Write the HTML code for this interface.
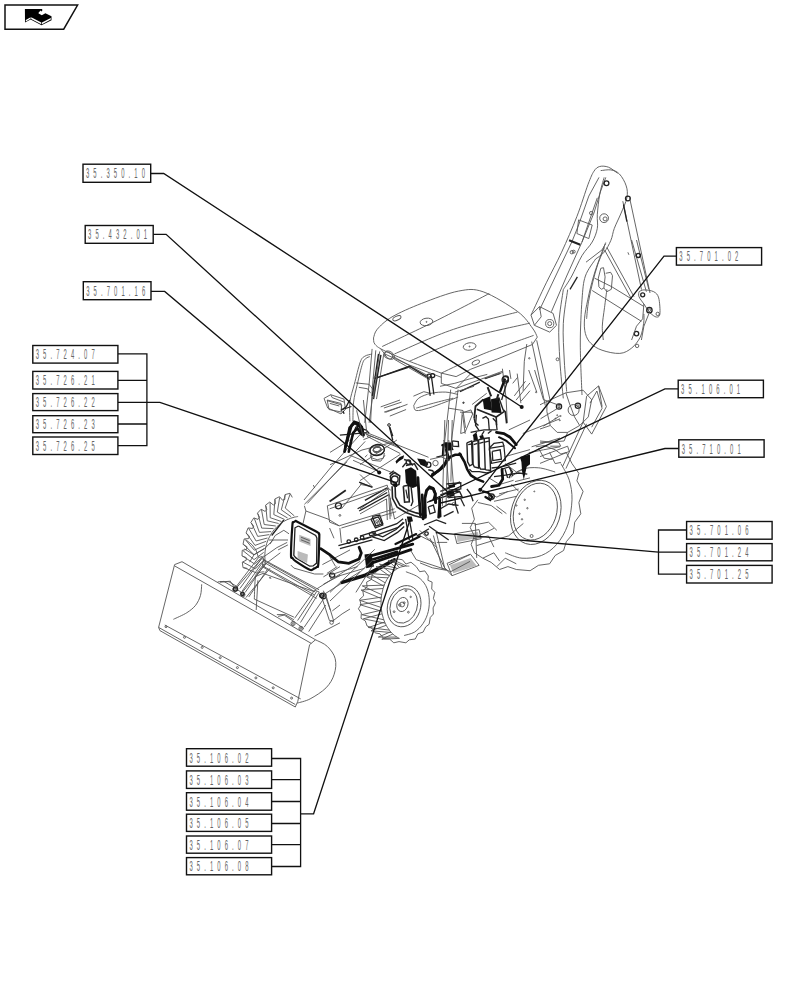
<!DOCTYPE html>
<html><head><meta charset="utf-8">
<style>
html,body{margin:0;padding:0;background:#fff;width:812px;height:1000px;overflow:hidden;}
svg{position:absolute;left:0;top:0;}
.lb{font-family:"Liberation Sans",sans-serif;font-size:14px;fill:#666;}
</style></head><body>
<svg width="812" height="1000" viewBox="0 0 812 1000">
<g id="icon">
<path d="M5 5 H77.6 L63.7 29.2 H5 Z" fill="none" stroke="#111" stroke-width="1.5"/>
<path d="M24.9 8.9 L42.2 8.9 L42.2 11 L38.3 13.2 L41.8 15.2 L45.4 13.2 L51.5 16.3 L51.5 20.3 L41.5 25.2 L30.6 19.6 L25 22.6 Z" fill="#000"/>
<path d="M25.8 20 L30.6 17.2 L30.6 18.8 L25.8 21.6 Z M31.2 17.3 L41.3 22.6 L41.3 24.2 L31.2 18.9 Z M42 22.6 L50.8 18 L50.8 19.6 L42 24.2 Z M38.5 12.6 L40.8 10.6 L41.6 11.6 L39.6 13.4 Z" fill="#fff"/>
</g>
<g id="machine">
<path d="M236.6 586.1 L258.7 557.4 L262.1 556.6 L264.3 559.9 L242.2 591.0" fill="none" stroke="#555" stroke-width="0.9"/>
<path d="M239.9 588.5 L261.4 558.9" fill="none" stroke="#555" stroke-width="0.9"/>
<path d="M245.1 592.5 L265.1 563.6" fill="none" stroke="#555" stroke-width="0.9"/>
<path d="M248.8 596.9 L267.3 569.6" fill="none" stroke="#555" stroke-width="0.9"/>
<circle cx="234.8" cy="589.5" r="2.1" fill="none" stroke="#555" stroke-width="0.9"/>
<circle cx="234.8" cy="589.5" r="0.9" fill="none" stroke="#555" stroke-width="0.9"/>
<circle cx="242.9" cy="594.7" r="2.1" fill="none" stroke="#555" stroke-width="0.9"/>
<circle cx="242.9" cy="594.7" r="0.9" fill="none" stroke="#555" stroke-width="0.9"/>
<path d="M220.0 581.7 L228.9 581.7 L237.7 587.0" fill="none" stroke="#555" stroke-width="0.9"/>
<path d="M264.3 559.9 C264.1 560.3 263.2 561.3 262.9 562.2 C262.6 563.1 262.2 564.6 262.6 565.4 C262.9 566.2 264.7 566.6 265.1 566.9" fill="none" stroke="#555" stroke-width="0.9"/>
<path d="M263.6 560.4 L316.3 589.9" fill="none" stroke="#555" stroke-width="0.9"/>
<path d="M262.6 565.9 L314.6 595.0" fill="none" stroke="#555" stroke-width="0.9"/>
<path d="M264.3 562.5 L315.3 592.0" fill="none" stroke="#555" stroke-width="0.9"/>
<path d="M294.6 618.3 L314.6 590.2 L319.3 592.0 L300.5 622.5" fill="none" stroke="#555" stroke-width="0.9"/>
<path d="M297.6 620.5 L316.8 591.4" fill="none" stroke="#555" stroke-width="0.9"/>
<path d="M304.2 627.2 L323.4 599.1" fill="none" stroke="#555" stroke-width="0.9"/>
<path d="M308.7 631.6 L325.7 605.0" fill="none" stroke="#555" stroke-width="0.9"/>
<circle cx="323.4" cy="595.9" r="2.7" fill="none" stroke="#222" stroke-width="1.3"/>
<circle cx="323.4" cy="595.9" r="1.2" fill="none" stroke="#555" stroke-width="0.9"/>
<circle cx="293.1" cy="623.5" r="2.1" fill="none" stroke="#555" stroke-width="0.9"/>
<circle cx="293.1" cy="623.5" r="0.9" fill="none" stroke="#555" stroke-width="0.9"/>
<circle cx="301.0" cy="628.4" r="2.1" fill="none" stroke="#555" stroke-width="0.9"/>
<circle cx="301.0" cy="628.4" r="0.9" fill="none" stroke="#555" stroke-width="0.9"/>
<path d="M276.9 614.6 L285.0 614.6 L293.9 619.8" fill="none" stroke="#555" stroke-width="0.9"/>
<path d="M322.0 597.9 L329.4 620.5 L333.8 621.3 L326.4 596.9" fill="none" stroke="#555" stroke-width="0.9"/>
<circle cx="331.6" cy="622.5" r="1.8" fill="none" stroke="#555" stroke-width="0.9"/>
<path d="M254.3 599.1 C254.5 595.4 254.7 581.3 255.5 576.9 C256.2 572.6 257.2 573.7 258.7 572.8 C260.2 571.9 263.4 571.9 264.3 571.8" fill="none" stroke="#555" stroke-width="0.9"/>
<path d="M254.3 599.1 L293.9 617.1" fill="none" stroke="#555" stroke-width="0.9"/>
<path d="M270.2 577.7 L271.0 578.7" fill="none" stroke="#555" stroke-width="0.9"/>
<path d="M244.4 548.9 L254.0 554.8 L264.3 548.9 L273.2 540.0" fill="none" stroke="#555" stroke-width="0.9"/>
<path d="M249.6 562.2 L254.0 554.8" fill="none" stroke="#555" stroke-width="0.9"/>
<path d="M268.8 540.0 L288.0 540.0" fill="none" stroke="#555" stroke-width="0.9"/>
<path d="M290.9 565.1 L293.9 568.1 L314.6 574.0 L323.4 574.0" fill="none" stroke="#555" stroke-width="0.9"/>
<path d="M323.4 576.9 L340.0 566.6" fill="none" stroke="#555" stroke-width="0.9"/>
<path d="M323.4 584.3 L340.0 575.5" fill="none" stroke="#555" stroke-width="0.9"/>
<path d="M332.3 610.9 L340.0 605.0" fill="none" stroke="#555" stroke-width="0.9"/>
<path d="M314.6 636.1 L340.0 622.8" fill="none" stroke="#555" stroke-width="0.9"/>
<path d="M531.0 315.1 C533.6 309.7 541.2 293.3 546.3 282.8 C551.4 272.3 556.5 263.3 561.6 252.2 C566.7 241.2 572.5 227.8 576.9 216.5 C581.3 205.2 585.3 191.7 588.1 184.2 C591.0 176.7 592.0 174.2 593.9 171.3 C595.8 168.3 597.3 167.2 599.7 166.5 C602.1 165.8 605.5 166.1 608.5 167.2 C611.5 168.3 616.2 172.3 617.7 173.3" fill="none" stroke="#555" stroke-width="0.9"/>
<path d="M539.5 310.0 L571.8 242.0 L578.6 225.0" fill="none" stroke="#555" stroke-width="0.9"/>
<path d="M551.4 311.7 L566.7 276.0 L582.0 242.0 L593.9 213.1 L600.7 191.0 L605.8 177.4" fill="none" stroke="#555" stroke-width="0.9"/>
<path d="M569.1 240.3 L580.3 244.7" fill="none" stroke="#222" stroke-width="2"/>
<path d="M578.6 225.0 L588.8 196.1 L599.0 177.4" fill="none" stroke="#555" stroke-width="0.9"/>
<path d="M582.0 242.0 L597.3 197.8" fill="none" stroke="#555" stroke-width="0.9"/>
<path d="M578.6 219.9 L592.2 225.0 L588.8 238.6 L576.9 233.5 L578.6 219.9" fill="none" stroke="#555" stroke-width="0.9"/>
<path d="M531.0 315.1 L539.5 306.6 L553.1 313.4 L556.5 325.3 L549.7 332.1 L534.4 325.3 L531.0 315.1" fill="none" stroke="#555" stroke-width="0.9"/>
<path d="M539.5 306.6 L541.2 316.8 L534.4 325.3" fill="none" stroke="#555" stroke-width="0.9"/>
<circle cx="549.7" cy="323.6" r="4.1" fill="none" stroke="#555" stroke-width="0.9"/>
<circle cx="549.7" cy="323.6" r="2.0" fill="none" stroke="#555" stroke-width="0.9"/>
<circle cx="571.8" cy="252.2" r="1.7" fill="none" stroke="#555" stroke-width="0.9"/>
<circle cx="591.2" cy="213.1" r="1.7" fill="none" stroke="#555" stroke-width="0.9"/>
<path d="M600.7 170.6 C602.4 170.5 607.8 169.4 610.9 169.9 C614.0 170.5 616.9 171.3 619.4 174.0 C622.0 176.7 625.0 181.9 626.2 185.9 C627.5 189.9 627.7 193.3 626.9 197.8 C626.0 202.3 623.2 208.0 621.1 213.1 C619.0 218.2 616.0 223.9 614.3 228.4 C612.6 232.9 612.6 236.3 610.9 240.3 C609.2 244.3 606.7 249.1 604.1 252.2 C601.6 255.3 597.0 257.9 595.6 259.0" fill="none" stroke="#555" stroke-width="0.9"/>
<path d="M604.1 177.4 C603.4 180.2 600.8 188.2 599.7 194.4 C598.6 200.6 597.7 209.1 597.3 214.8 C596.9 220.5 598.2 223.9 597.3 228.4 C596.5 232.9 594.8 237.5 592.2 242.0 C589.7 246.5 585.4 249.9 582.0 255.6 C578.6 261.3 574.9 270.3 571.8 276.0 C568.7 281.7 564.7 287.3 563.3 289.6" fill="none" stroke="#555" stroke-width="0.9"/>
<path d="M563.3 289.6 C562.6 295.3 559.5 311.7 558.9 323.6 C558.3 335.5 559.2 348.5 559.9 361.0 C560.6 373.5 562.7 392.2 563.3 398.4" fill="none" stroke="#555" stroke-width="0.9"/>
<path d="M595.6 259.0 C593.9 261.8 587.7 269.2 585.4 276.0 C583.1 282.8 582.9 288.5 582.0 299.8 C581.2 311.1 580.3 328.1 580.3 344.0 C580.3 359.9 581.7 386.5 582.0 395.0" fill="none" stroke="#555" stroke-width="0.9"/>
<path d="M567.7 289.6 C567.0 295.3 563.9 311.7 563.3 323.6 C562.7 335.5 563.8 349.7 564.3 361.0 C564.9 372.3 566.3 386.5 566.7 391.6" fill="none" stroke="#555" stroke-width="0.9"/>
<circle cx="604.1" cy="218.2" r="4.4" fill="none" stroke="#555" stroke-width="0.9"/>
<circle cx="605.1" cy="218.9" r="2.0" fill="none" stroke="#555" stroke-width="0.9"/>
<circle cx="606.5" cy="183.2" r="2.4" fill="none" stroke="#222" stroke-width="1.3"/>
<circle cx="627.9" cy="198.5" r="2.4" fill="none" stroke="#222" stroke-width="1.3"/>
<circle cx="638.1" cy="255.6" r="2.0" fill="none" stroke="#555" stroke-width="0.9"/>
<circle cx="557.5" cy="359.3" r="1.4" fill="none" stroke="#555" stroke-width="0.9"/>
<path d="M622.8 201.2 L641.5 289.6" fill="none" stroke="#555" stroke-width="0.9"/>
<path d="M629.6 197.8 L650.0 293.0" fill="none" stroke="#555" stroke-width="0.9"/>
<path d="M623.5 204.6 L626.9 221.6" fill="none" stroke="#222" stroke-width="1.3"/>
<path d="M182.0 561.7 L174.6 564.6 L158.6 627.4 L159.9 630.6 L295.3 707.0 L297.8 701.3 L309.6 644.7 L315.5 639.8 L182.0 561.7" fill="none" stroke="#555" stroke-width="0.9"/>
<path d="M174.6 565.9 L311.3 643.4" fill="none" stroke="#555" stroke-width="0.9"/>
<path d="M158.6 627.4 L295.3 704.5" fill="none" stroke="#555" stroke-width="0.9"/>
<path d="M164.8 625.0 L300.7 698.9" fill="none" stroke="#555" stroke-width="0.9"/>
<path d="M315.5 639.8 C317.5 640.9 324.1 643.2 327.3 646.4 C330.6 649.6 334.1 654.1 335.2 658.7 C336.4 663.4 335.8 669.4 334.2 674.2 C332.7 679.1 330.1 683.7 326.1 687.8 C322.1 691.9 314.9 696.3 310.1 698.9 C305.3 701.4 299.4 702.4 297.3 703.1" fill="none" stroke="#555" stroke-width="0.9"/>
<path d="M201.7 584.3 C201.5 586.2 201.5 591.9 200.5 595.4 C199.5 598.9 197.8 602.4 195.6 605.3 C193.3 608.1 190.6 610.3 186.9 612.7 C183.3 615.0 175.7 618.2 173.4 619.3" fill="none" stroke="#555" stroke-width="0.9"/>
<path d="M217.7 581.9 L223.9 581.4 L235.0 588.0 L244.8 594.7" fill="none" stroke="#555" stroke-width="0.9"/>
<path d="M278.1 616.4 L284.2 615.1 L295.3 622.5 L303.9 628.7" fill="none" stroke="#555" stroke-width="0.9"/>
<path d="M258.4 557.2 L255.9 549.9 L252.2 544.9 L246.1 540.0" fill="none" stroke="#555" stroke-width="0.9"/>
<path d="M278.1 549.9 L287.9 544.9" fill="none" stroke="#555" stroke-width="0.9"/>
<path d="M322.4 564.6 L350.0 549.9" fill="none" stroke="#555" stroke-width="0.9"/>
<path d="M332.3 621.3 L342.1 613.9 L350.0 609.0" fill="none" stroke="#555" stroke-width="0.9"/>
<circle cx="166.0" cy="626.7" r="1.0" fill="none" stroke="#555" stroke-width="0.9"/>
<circle cx="184.5" cy="637.3" r="1.0" fill="none" stroke="#555" stroke-width="0.9"/>
<circle cx="202.2" cy="647.4" r="1.0" fill="none" stroke="#555" stroke-width="0.9"/>
<circle cx="220.2" cy="657.7" r="1.0" fill="none" stroke="#555" stroke-width="0.9"/>
<circle cx="237.4" cy="667.6" r="1.0" fill="none" stroke="#555" stroke-width="0.9"/>
<circle cx="255.9" cy="677.9" r="1.0" fill="none" stroke="#555" stroke-width="0.9"/>
<circle cx="273.2" cy="687.8" r="1.0" fill="none" stroke="#555" stroke-width="0.9"/>
<circle cx="291.6" cy="698.1" r="1.0" fill="none" stroke="#555" stroke-width="0.9"/>
<path d="M605.7 242.5 C604.7 245.1 601.6 252.7 599.6 258.5 C597.5 264.2 595.3 270.2 593.4 276.9 C591.4 283.7 589.3 292.1 587.9 299.1 C586.4 306.1 584.9 313.1 584.5 318.8 C584.1 324.6 584.3 329.5 585.4 333.6 C586.5 337.7 588.2 340.7 590.9 343.4 C593.7 346.2 597.2 348.6 602.0 350.2 C606.8 351.9 614.8 353.8 619.8 353.4 C624.7 353.1 628.3 350.7 631.7 348.0 C635.1 345.3 638.2 341.2 640.2 337.2 C642.2 333.1 643.0 327.5 643.6 323.6 C644.3 319.7 643.9 315.5 643.9 313.9" fill="none" stroke="#555" stroke-width="0.9"/>
<path d="M604.5 247.4 C603.4 250.3 599.7 258.9 597.7 264.6 C595.8 270.4 594.3 275.7 592.8 281.9 C591.2 288.0 589.5 295.4 588.5 301.6 C587.4 307.7 586.9 315.9 586.6 318.8" fill="none" stroke="#555" stroke-width="0.9"/>
<path d="M586.0 262.2 L602.0 249.9 L605.7 243.7" fill="none" stroke="#555" stroke-width="0.9"/>
<path d="M604.5 249.9 L631.6 299.1" fill="none" stroke="#555" stroke-width="0.9"/>
<path d="M606.9 247.4 L634.0 296.7" fill="none" stroke="#555" stroke-width="0.9"/>
<path d="M600.8 268.3 L603.5 267.7 L605.1 276.9 L603.9 288.0 L601.4 289.3 L598.9 286.8 L598.3 278.2 L600.8 268.3" fill="none" stroke="#555" stroke-width="0.9"/>
<path d="M605.7 273.3 L610.6 272.3 L612.5 275.7 L611.3 289.3 L606.9 291.7 L603.9 288.0" fill="none" stroke="#555" stroke-width="0.9"/>
<path d="M594.6 278.2 L611.9 286.8 L643.9 306.5" fill="none" stroke="#555" stroke-width="0.9"/>
<path d="M592.2 290.5 L641.4 321.3" fill="none" stroke="#555" stroke-width="0.9"/>
<path d="M606.9 289.3 C606.5 292.3 605.3 301.6 604.5 307.7 C603.7 313.9 602.5 320.8 602.3 326.2 C602.1 331.6 603.1 337.7 603.3 340.0" fill="none" stroke="#555" stroke-width="0.9"/>
<path d="M639.0 291.7 C639.8 291.4 641.4 289.9 643.9 289.9 C646.4 289.9 651.3 290.4 653.7 291.7 C656.2 293.1 657.6 294.2 658.7 297.9 C659.7 301.6 660.3 310.7 659.9 313.9 C659.5 317.1 657.8 317.2 656.2 317.0 C654.6 316.8 652.1 314.8 650.0 312.7 C648.0 310.5 645.7 306.7 643.9 304.0 C642.0 301.4 639.8 298.7 639.0 296.7 C638.1 294.6 639.0 292.5 639.0 291.7" fill="none" stroke="#555" stroke-width="0.9"/>
<circle cx="642.7" cy="294.8" r="2.0" fill="none" stroke="#222" stroke-width="1.3"/>
<circle cx="649.4" cy="310.2" r="2.7" fill="none" stroke="#222" stroke-width="1.3"/>
<circle cx="649.4" cy="310.2" r="1.2" fill="none" stroke="#555" stroke-width="0.9"/>
<circle cx="657.7" cy="313.9" r="1.7" fill="none" stroke="#555" stroke-width="0.9"/>
<circle cx="636.5" cy="333.6" r="2.2" fill="none" stroke="#222" stroke-width="1.3"/>
<circle cx="637.1" cy="345.9" r="1.7" fill="none" stroke="#555" stroke-width="0.9"/>
<path d="M643.9 304.0 L642.7 318.8 L636.5 326.2 L631.6 340.0" fill="none" stroke="#555" stroke-width="0.9"/>
<path d="M648.8 313.9 L643.9 326.2 L641.4 340.0" fill="none" stroke="#555" stroke-width="0.9"/>
<path d="M631.6 240.0 L646.4 291.7" fill="none" stroke="#555" stroke-width="0.9"/>
<path d="M636.5 240.0 L648.8 289.3" fill="none" stroke="#555" stroke-width="0.9"/>
<circle cx="638.3" cy="255.4" r="2.1" fill="none" stroke="#222" stroke-width="1.3"/>
<circle cx="573.7" cy="251.7" r="1.5" fill="none" stroke="#555" stroke-width="0.9"/>
<path d="M570.0 289.3 L577.4 276.9" fill="none" stroke="#222" stroke-width="1.3"/>
<path d="M627.9 252.3 L628.9 254.8" fill="none" stroke="#555" stroke-width="0.9"/>
<path d="M450.7 389.6 L444.5 442.6" fill="none" stroke="#555" stroke-width="0.9"/>
<path d="M458.1 389.6 L451.2 442.6" fill="none" stroke="#555" stroke-width="0.9"/>
<path d="M448.2 408.1 L463.0 410.5" fill="none" stroke="#555" stroke-width="0.9"/>
<path d="M463.0 410.5 L465.5 427.8" fill="none" stroke="#555" stroke-width="0.9"/>
<path d="M502.4 368.7 L506.1 398.2 L507.3 422.9" fill="none" stroke="#555" stroke-width="0.9"/>
<path d="M517.2 373.6 L520.9 403.2" fill="none" stroke="#555" stroke-width="0.9"/>
<path d="M413.7 405.6 C414.6 404.4 415.8 400.3 418.7 398.2 C421.5 396.2 426.5 394.3 431.0 393.3 C435.5 392.3 441.2 391.9 445.8 392.1 C450.3 392.3 456.0 394.1 458.1 394.5" fill="none" stroke="#555" stroke-width="0.9"/>
<path d="M416.2 408.1 C419.1 407.3 427.3 404.8 433.4 403.2 C439.6 401.5 449.9 399.0 453.2 398.2" fill="none" stroke="#555" stroke-width="0.9"/>
<path d="M413.7 405.6 C414.2 406.4 413.7 410.1 416.2 410.5 C418.7 411.0 423.6 409.5 428.5 408.1 C433.4 406.6 440.8 403.8 445.8 401.9 C450.7 400.1 456.0 397.8 458.1 397.0" fill="none" stroke="#555" stroke-width="0.9"/>
<path d="M339.9 435.2 L366.9 432.7" fill="none" stroke="#222" stroke-width="1.3"/>
<path d="M366.9 432.7 L428.5 457.3" fill="none" stroke="#555" stroke-width="0.9"/>
<ellipse cx="376.8" cy="450.0" rx="7.9" ry="4.9" transform="rotate(-10.0 376.8 450.0)" fill="none" stroke="#555" stroke-width="0.9"/>
<ellipse cx="376.8" cy="449.5" rx="3.7" ry="2.2" transform="rotate(-10.0 376.8 449.5)" fill="none" stroke="#555" stroke-width="0.9"/>
<path d="M330.0 464.7 L362.0 450.0 L391.6 442.6" fill="none" stroke="#555" stroke-width="0.9"/>
<path d="M330.0 452.4 L349.7 440.1" fill="none" stroke="#555" stroke-width="0.9"/>
<path d="M372.1 354.0 C370.8 354.4 366.6 354.9 364.7 356.3 C362.7 357.6 362.0 357.5 360.2 362.2 C358.5 366.8 356.1 377.7 354.3 384.3 C352.6 391.0 350.6 395.9 349.9 402.1 C349.2 408.2 349.9 418.1 349.9 421.3" fill="none" stroke="#555" stroke-width="0.9"/>
<path d="M369.8 356.6 C369.2 356.9 367.1 357.3 365.9 358.5 C364.6 359.7 363.9 359.3 362.5 363.6 C361.0 368.0 358.8 377.9 357.3 384.3 C355.8 390.7 354.3 395.9 353.6 402.1 C352.9 408.2 353.0 418.1 352.9 421.3" fill="none" stroke="#555" stroke-width="0.9"/>
<path d="M372.1 348.9 L369.1 384.3 L364.7 422.8" fill="none" stroke="#555" stroke-width="0.9"/>
<path d="M375.8 350.3 L372.1 390.2 L370.6 422.8" fill="none" stroke="#555" stroke-width="0.9"/>
<path d="M355.8 382.9 L369.1 384.3 L373.5 390.2 L369.1 422.8" fill="none" stroke="#555" stroke-width="0.9"/>
<path d="M358.8 387.3 L367.6 388.8 L370.6 393.2" fill="none" stroke="#555" stroke-width="0.9"/>
<path d="M380.9 354.8 L373.5 399.1" fill="none" stroke="#222" stroke-width="1.4"/>
<path d="M383.9 353.3 L376.5 399.1" fill="none" stroke="#555" stroke-width="0.9"/>
<path d="M375.0 378.4 L410.5 366.6" fill="none" stroke="#222" stroke-width="1.3"/>
<ellipse cx="388.3" cy="355.5" rx="4.4" ry="3.0" transform="rotate(30.0 388.3 355.5)" fill="none" stroke="#555" stroke-width="0.9"/>
<path d="M392.8 356.3 L430.0 376.9" fill="none" stroke="#555" stroke-width="0.9"/>
<path d="M394.2 359.2 L430.0 379.9" fill="none" stroke="#555" stroke-width="0.9"/>
<path d="M383.9 408.0 L401.6 402.1" fill="none" stroke="#555" stroke-width="0.9"/>
<path d="M385.4 412.4 L407.5 404.3" fill="none" stroke="#555" stroke-width="0.9"/>
<path d="M389.8 416.1 L406.1 409.5" fill="none" stroke="#555" stroke-width="0.9"/>
<path d="M324.0 398.4 L330.7 394.7 L344.0 399.1 L345.5 409.5 L341.0 413.9 L327.7 408.0 L324.0 398.4" fill="none" stroke="#555" stroke-width="0.9"/>
<path d="M327.0 400.6 L341.8 405.0 L341.0 410.9" fill="none" stroke="#555" stroke-width="0.9"/>
<path d="M330.7 394.7 L332.2 397.6 L344.0 402.1" fill="none" stroke="#555" stroke-width="0.9"/>
<path d="M342.5 409.5 L351.4 406.5" fill="none" stroke="#222" stroke-width="1.3"/>
<path d="M343.2 410.9 L344.0 413.9" fill="none" stroke="#222" stroke-width="1.3"/>
<path d="M345.5 446.4 L351.4 425.7 L354.3 422.0 L358.8 423.5 L361.7 427.2 L363.2 434.6" fill="none" stroke="#111" stroke-width="2.8" stroke-linecap="round"/>
<path d="M349.9 443.4 L355.8 427.2 L358.8 425.7 L361.0 431.6" fill="none" stroke="#222" stroke-width="1.4"/>
<path d="M361.7 428.7 L366.2 430.1 L369.1 433.1" fill="none" stroke="#222" stroke-width="1.3"/>
<circle cx="389.1" cy="425.0" r="1.3" fill="none" stroke="#555" stroke-width="0.9"/>
<path d="M389.8 427.2 L392.8 436.1" fill="none" stroke="#222" stroke-width="1.3"/>
<path d="M366.2 434.6 L398.7 446.4" fill="none" stroke="#555" stroke-width="0.9"/>
<path d="M413.4 396.2 L423.8 391.7 L430.0 393.2" fill="none" stroke="#555" stroke-width="0.9"/>
<ellipse cx="377.2" cy="450.1" rx="7.4" ry="5.2" transform="rotate(-10.0 377.2 450.1)" fill="none" stroke="#555" stroke-width="0.9"/>
<ellipse cx="377.2" cy="449.9" rx="4.3" ry="2.7" transform="rotate(-10.0 377.2 449.9)" fill="none" stroke="#555" stroke-width="0.9"/>
<path d="M370.5 452.3 L371.7 457.9 L377.2 459.7 L383.4 458.2 L384.4 452.9" fill="none" stroke="#555" stroke-width="0.9"/>
<path d="M360.0 464.6 L396.9 440.0" fill="none" stroke="#555" stroke-width="0.9"/>
<path d="M360.0 480.6 L400.6 454.2" fill="none" stroke="#555" stroke-width="0.9"/>
<path d="M364.9 457.2 L367.4 454.8" fill="none" stroke="#555" stroke-width="0.9"/>
<path d="M360.0 509.0 L388.6 488.6 L390.8 490.2" fill="none" stroke="#555" stroke-width="0.9"/>
<path d="M364.9 500.3 L387.1 487.8" fill="none" stroke="#222" stroke-width="1.5"/>
<path d="M360.0 513.9 L386.5 498.9" fill="none" stroke="#555" stroke-width="0.9"/>
<path d="M360.0 474.5 L372.3 486.8" fill="none" stroke="#555" stroke-width="0.9"/>
<path d="M386.5 498.9 L387.3 520.0" fill="none" stroke="#555" stroke-width="0.9"/>
<path d="M390.2 497.9 L391.0 516.4" fill="none" stroke="#555" stroke-width="0.9"/>
<path d="M360.0 484.3 L372.3 486.8" fill="none" stroke="#555" stroke-width="0.9"/>
<path d="M443.7 440.0 L446.2 452.3 L448.7 486.8" fill="none" stroke="#555" stroke-width="0.9"/>
<path d="M448.7 440.0 L451.1 454.8 L453.6 486.8" fill="none" stroke="#555" stroke-width="0.9"/>
<path d="M443.7 442.5 L451.1 442.5 L453.6 449.9 L446.2 451.1 L443.7 442.5Z" fill="#111" stroke="none"/>
<path d="M436.4 457.2 L446.2 454.8" fill="none" stroke="#222" stroke-width="1.3"/>
<path d="M445.0 489.3 L460.0 481.9" fill="none" stroke="#222" stroke-width="1.3"/>
<path d="M446.2 494.2 L460.0 489.3" fill="none" stroke="#222" stroke-width="1.3"/>
<path d="M446.2 493.0 L453.6 490.5 L454.8 495.4 L447.4 497.9 L446.2 493.0Z" fill="#111" stroke="none"/>
<path d="M429.0 501.6 L460.0 491.7" fill="none" stroke="#222" stroke-width="1.3"/>
<circle cx="448.7" cy="496.7" r="1.2" fill="none" stroke="#555" stroke-width="0.9"/>
<circle cx="453.6" cy="504.0" r="1.5" fill="none" stroke="#555" stroke-width="0.9"/>
<path d="M440.0 509.0 L448.7 504.0 L458.5 505.3" fill="none" stroke="#222" stroke-width="1.3"/>
<path d="M443.7 516.4 L453.6 511.4" fill="none" stroke="#222" stroke-width="1.3"/>
<path d="M360.0 536.1 L376.0 531.1 L396.9 523.7 L403.1 518.8" fill="none" stroke="#222" stroke-width="1.3"/>
<path d="M362.5 540.0 L377.2 534.8 L398.2 527.4 L404.3 522.5" fill="none" stroke="#222" stroke-width="1.3"/>
<ellipse cx="372.3" cy="533.6" rx="3.1" ry="1.7" transform="rotate(-20.0 372.3 533.6)" fill="none" stroke="#222" stroke-width="1.3"/>
<path d="M372.3 516.4 L379.7 515.1 L382.8 523.7 L376.0 526.2 L372.3 516.4" fill="none" stroke="#222" stroke-width="1.3"/>
<circle cx="377.2" cy="521.3" r="1.5" fill="none" stroke="#555" stroke-width="0.9"/>
<path d="M405.6 518.8 L409.3 540.0" fill="none" stroke="#222" stroke-width="1.3"/>
<path d="M409.3 518.8 L413.0 540.0" fill="none" stroke="#222" stroke-width="1.3"/>
<path d="M406.8 516.4 L411.7 516.4 L413.0 521.3 L408.0 522.5 L406.8 516.4Z" fill="#111" stroke="none"/>
<path d="M424.0 525.0 L436.4 520.0 L446.2 523.7" fill="none" stroke="#222" stroke-width="1.3"/>
<path d="M416.7 536.1 L429.0 528.7" fill="none" stroke="#222" stroke-width="1.3"/>
<circle cx="426.5" cy="533.6" r="1.8" fill="none" stroke="#222" stroke-width="1.3"/>
<path d="M429.0 526.2 L448.7 540.0" fill="none" stroke="#222" stroke-width="1.3"/>
<path d="M270.0 544.1 L275.2 535.5 L283.8 530.3 L289.0 533.8" fill="none" stroke="#555" stroke-width="0.9"/>
<path d="M271.7 535.5 L283.8 520.0" fill="none" stroke="#222" stroke-width="1.3"/>
<path d="M295.9 521.0 C299.3 522.8 312.7 529.5 316.6 531.7 C320.4 533.9 318.5 533.2 319.0 534.1 C319.4 535.1 319.4 532.3 319.3 537.2 C319.2 542.2 318.7 559.0 318.3 564.0 C317.9 568.9 317.6 566.1 316.9 566.9 C316.2 567.7 315.2 568.2 314.0 568.6 C312.8 569.1 312.7 570.9 309.7 569.7 C306.6 568.4 298.7 563.3 295.9 561.4 C293.0 559.4 293.2 559.1 292.4 557.9 C291.6 556.8 291.0 559.9 291.0 554.5 C291.0 549.0 292.0 530.5 292.4 525.2 C292.8 519.8 292.9 523.1 293.4 522.4 C294.0 521.7 295.5 521.3 295.9 521.0" fill="none" stroke="#111" stroke-width="2.2" stroke-linecap="round"/>
<path d="M298.4 526.0 L315.7 535.5 L316.9 538.1 L316.6 563.1 L313.1 565.9 L309.7 566.2 L295.9 557.9 L293.8 555.3 L295.0 527.8 L298.4 526.0" fill="none" stroke="#222" stroke-width="1.3"/>
<path d="M299.3 534.7 L310.5 539.0 L310.5 545.9 L299.3 541.6 L299.3 534.7Z" fill="#bbb" stroke="none"/>
<path d="M297.6 551.0 L307.9 554.5 L307.1 563.1 L297.6 558.8 L297.6 551.0Z" fill="#bbb" stroke="none"/>
<path d="M301.0 537.2 L309.7 540.7" fill="none" stroke="#555" stroke-width="0.9"/>
<path d="M301.0 539.8 L309.7 543.3" fill="none" stroke="#555" stroke-width="0.9"/>
<path d="M262.2 558.8 L319.1 589.8" fill="none" stroke="#555" stroke-width="0.9"/>
<path d="M262.2 566.6 L316.6 598.4" fill="none" stroke="#555" stroke-width="0.9"/>
<path d="M235.5 589.0 L262.2 557.9" fill="none" stroke="#555" stroke-width="0.9"/>
<path d="M240.7 594.1 L266.6 563.1" fill="none" stroke="#555" stroke-width="0.9"/>
<path d="M245.9 597.6 L270.0 568.3" fill="none" stroke="#555" stroke-width="0.9"/>
<path d="M262.2 557.9 L276.9 547.6 L287.2 542.4" fill="none" stroke="#555" stroke-width="0.9"/>
<path d="M266.6 563.1 L280.3 552.8" fill="none" stroke="#555" stroke-width="0.9"/>
<path d="M254.5 576.9 L263.1 573.4 L314.0 591.6" fill="none" stroke="#555" stroke-width="0.9"/>
<path d="M257.9 580.3 L256.2 610.0" fill="none" stroke="#555" stroke-width="0.9"/>
<path d="M316.6 589.0 L360.0 561.4" fill="none" stroke="#555" stroke-width="0.9"/>
<path d="M321.7 595.9 L360.0 571.7" fill="none" stroke="#555" stroke-width="0.9"/>
<path d="M323.4 590.7 L330.3 610.0" fill="none" stroke="#555" stroke-width="0.9"/>
<path d="M220.0 582.1 L230.3 581.2 L235.5 589.0" fill="none" stroke="#555" stroke-width="0.9"/>
<circle cx="235.5" cy="589.0" r="2.1" fill="none" stroke="#222" stroke-width="1.3"/>
<circle cx="242.4" cy="593.8" r="1.7" fill="none" stroke="#222" stroke-width="1.3"/>
<circle cx="321.7" cy="595.5" r="2.1" fill="none" stroke="#222" stroke-width="1.3"/>
<circle cx="270.0" cy="577.8" r="0.5" fill="none" stroke="#555" stroke-width="0.9"/>
<ellipse cx="332.1" cy="575.2" rx="2.6" ry="2.1" transform="rotate(0.0 332.1 575.2)" fill="none" stroke="#222" stroke-width="1.3"/>
<path d="M326.9 573.4 L337.2 566.6" fill="none" stroke="#555" stroke-width="0.9"/>
<path d="M304.0 500.0 L332.4 465.5 L361.7 432.8" fill="none" stroke="#555" stroke-width="0.9"/>
<path d="M307.4 503.4 L335.9 472.4 L365.2 441.4" fill="none" stroke="#555" stroke-width="0.9"/>
<path d="M344.5 451.7 L349.7 427.6 L354.8 422.8 L361.7 427.6 L363.4 435.3" fill="none" stroke="#111" stroke-width="2.8" stroke-linecap="round"/>
<path d="M348.8 451.7 L353.1 432.8 L357.4 428.4 L361.7 434.5" fill="none" stroke="#111" stroke-width="2.6" stroke-linecap="round"/>
<path d="M327.2 400.0 L341.0 403.4 L341.9 412.1 L329.0 409.5 L327.2 400.0" fill="none" stroke="#555" stroke-width="0.9"/>
<path d="M329.8 403.4 L339.3 406.0" fill="none" stroke="#555" stroke-width="0.9"/>
<path d="M341.0 410.3 L346.2 406.9 L349.7 400.0" fill="none" stroke="#222" stroke-width="1.3"/>
<ellipse cx="377.2" cy="450.0" rx="7.2" ry="5.5" transform="rotate(-10.0 377.2 450.0)" fill="none" stroke="#222" stroke-width="1.3"/>
<ellipse cx="377.2" cy="449.1" rx="3.8" ry="2.6" transform="rotate(-10.0 377.2 449.1)" fill="none" stroke="#555" stroke-width="0.9"/>
<path d="M370.3 455.2 L372.1 460.3 L380.7 461.2 L385.0 455.2" fill="none" stroke="#555" stroke-width="0.9"/>
<circle cx="389.0" cy="425.0" r="1.4" fill="none" stroke="#555" stroke-width="0.9"/>
<path d="M389.3 426.7 L392.8 440.5" fill="none" stroke="#222" stroke-width="1.3"/>
<path d="M363.4 432.8 L400.0 448.3" fill="none" stroke="#555" stroke-width="0.9"/>
<path d="M366.9 436.2 L400.0 453.4" fill="none" stroke="#555" stroke-width="0.9"/>
<path d="M360.0 482.8 L370.3 486.2" fill="none" stroke="#555" stroke-width="0.9"/>
<path d="M349.7 455.2 L400.0 475.9" fill="none" stroke="#555" stroke-width="0.9"/>
<path d="M353.1 460.3 L380.7 472.4" fill="none" stroke="#555" stroke-width="0.9"/>
<path d="M363.4 439.7 L372.1 436.2" fill="none" stroke="#555" stroke-width="0.9"/>
<path d="M380.7 406.9 L400.0 400.0" fill="none" stroke="#555" stroke-width="0.9"/>
<path d="M384.1 412.1 L400.0 406.9" fill="none" stroke="#555" stroke-width="0.9"/>
<path d="M356.6 410.3 L363.4 437.9" fill="none" stroke="#555" stroke-width="0.9"/>
<path d="M363.4 400.0 L366.9 434.5" fill="none" stroke="#555" stroke-width="0.9"/>
<path d="M304.4 504.3 L347.3 461.5" fill="none" stroke="#555" stroke-width="0.9"/>
<path d="M304.4 505.8 L305.9 511.0 L328.1 519.1 L339.2 525.8" fill="none" stroke="#555" stroke-width="0.9"/>
<path d="M305.9 511.0 L303.0 523.5" fill="none" stroke="#555" stroke-width="0.9"/>
<path d="M327.3 505.8 L329.6 522.1 L339.2 525.8" fill="none" stroke="#555" stroke-width="0.9"/>
<path d="M327.3 505.8 L387.2 485.1" fill="none" stroke="#555" stroke-width="0.9"/>
<path d="M329.6 508.8 L388.7 488.1" fill="none" stroke="#555" stroke-width="0.9"/>
<path d="M387.2 485.1 L394.6 519.1" fill="none" stroke="#555" stroke-width="0.9"/>
<path d="M339.2 525.8 L394.6 508.8" fill="none" stroke="#555" stroke-width="0.9"/>
<path d="M339.9 528.0 L341.4 542.8" fill="none" stroke="#555" stroke-width="0.9"/>
<path d="M341.4 528.0 L396.1 511.7" fill="none" stroke="#555" stroke-width="0.9"/>
<path d="M329.6 501.4 L345.8 490.3" fill="none" stroke="#222" stroke-width="1.8"/>
<circle cx="338.4" cy="505.8" r="3.0" fill="none" stroke="#222" stroke-width="1.3"/>
<circle cx="339.9" cy="515.4" r="0.9" fill="none" stroke="#555" stroke-width="0.9"/>
<path d="M359.1 482.2 L372.4 487.3" fill="none" stroke="#222" stroke-width="1.3"/>
<path d="M341.4 508.8 L360.6 485.1" fill="none" stroke="#555" stroke-width="0.9"/>
<path d="M357.6 508.8 L387.2 492.5" fill="none" stroke="#222" stroke-width="1.3"/>
<path d="M359.1 511.0 L388.7 494.7" fill="none" stroke="#222" stroke-width="1.3"/>
<path d="M388.7 494.0 L390.1 519.1" fill="none" stroke="#555" stroke-width="0.9"/>
<path d="M370.9 519.1 L378.3 516.9 L382.8 525.0 L375.4 528.0 L370.9 519.1" fill="none" stroke="#222" stroke-width="1.3"/>
<circle cx="378.3" cy="522.8" r="1.5" fill="none" stroke="#555" stroke-width="0.9"/>
<path d="M370.9 532.4 L382.8 536.8 L396.1 529.5 L403.4 522.1" fill="none" stroke="#222" stroke-width="1.3"/>
<path d="M372.4 536.8 L384.2 540.5 L397.5 532.4 L404.2 526.5" fill="none" stroke="#222" stroke-width="1.3"/>
<path d="M338.4 545.7 L370.9 536.8" fill="none" stroke="#222" stroke-width="1.3"/>
<path d="M339.9 548.7 L372.4 539.8" fill="none" stroke="#222" stroke-width="1.3"/>
<circle cx="348.8" cy="541.6" r="1.8" fill="none" stroke="#222" stroke-width="1.3"/>
<circle cx="356.2" cy="539.8" r="1.8" fill="none" stroke="#222" stroke-width="1.3"/>
<circle cx="362.1" cy="537.6" r="1.8" fill="none" stroke="#222" stroke-width="1.3"/>
<path d="M320.7 548.7 L329.6 554.6 L338.4 562.0 L348.8 563.4 L359.1 559.0 L361.3 553.1 L359.1 547.2" fill="none" stroke="#111" stroke-width="2.8" stroke-linecap="round"/>
<path d="M313.3 485.1 L314.8 488.1" fill="none" stroke="#555" stroke-width="0.9"/>
<path d="M329.6 528.0 L334.0 538.3" fill="none" stroke="#555" stroke-width="0.9"/>
<path d="M329.6 556.1 L335.5 566.4" fill="none" stroke="#555" stroke-width="0.9"/>
<path d="M394.6 519.1 L420.0 504.3" fill="none" stroke="#555" stroke-width="0.9"/>
<path d="M482.8 399.3 L490.2 396.3 L492.1 410.5 L484.0 409.0 L482.8 399.3Z" fill="#111" stroke="none"/>
<path d="M491.0 399.3 L498.8 397.4 L501.6 413.1 L491.6 412.4 L491.0 399.3Z" fill="#111" stroke="none"/>
<path d="M474.2 418.3 L475.5 406.2 L483.3 399.5" fill="none" stroke="#222" stroke-width="1.8"/>
<path d="M476.8 409.2 L496.2 417.0 L504.4 411.4" fill="none" stroke="#222" stroke-width="1.6"/>
<path d="M496.2 417.0 L496.6 425.2" fill="none" stroke="#222" stroke-width="1.6"/>
<path d="M503.1 409.7 L505.3 411.8 L506.6 423.4" fill="none" stroke="#222" stroke-width="1.6"/>
<path d="M474.2 418.3 L475.1 422.6 L478.5 425.6" fill="none" stroke="#222" stroke-width="1.4"/>
<path d="M498.8 397.4 L503.1 409.7" fill="none" stroke="#222" stroke-width="1.4"/>
<path d="M487.6 387.2 L491.2 396.3" fill="none" stroke="#222" stroke-width="2"/>
<path d="M498.4 394.1 L496.6 399.7" fill="none" stroke="#222" stroke-width="2"/>
<path d="M500.3 391.1 L504.8 379.5" fill="none" stroke="#111" stroke-width="2.4" stroke-linecap="round"/>
<circle cx="505.7" cy="378.6" r="2.8" fill="none" stroke="#222" stroke-width="1.3"/>
<path d="M460.0 391.6 L479.8 382.1" fill="none" stroke="#222" stroke-width="1.2"/>
<path d="M485.0 378.6 L500.5 373.4" fill="none" stroke="#222" stroke-width="1.2"/>
<path d="M514.3 395.9 L525.5 381.2" fill="none" stroke="#555" stroke-width="0.9"/>
<path d="M516.0 400.2 L530.0 382.9" fill="none" stroke="#555" stroke-width="0.9"/>
<path d="M521.2 401.0 L530.0 390.7" fill="none" stroke="#555" stroke-width="0.9"/>
<path d="M472.1 404.5 L486.7 393.3" fill="none" stroke="#555" stroke-width="0.9"/>
<path d="M460.0 412.2 L472.1 412.2 L472.9 414.8" fill="none" stroke="#555" stroke-width="0.9"/>
<path d="M462.6 414.8 L465.2 433.8" fill="none" stroke="#555" stroke-width="0.9"/>
<circle cx="463.4" cy="402.8" r="0.9" fill="#111" stroke="none"/>
<path d="M476.4 414.8 L475.5 425.2 L479.0 430.3" fill="none" stroke="#222" stroke-width="1.3"/>
<path d="M482.4 418.3 L485.9 416.6 L488.4 419.1 L489.3 430.3" fill="none" stroke="#222" stroke-width="1.3"/>
<path d="M492.8 418.3 L496.2 421.7 L497.1 430.3" fill="none" stroke="#222" stroke-width="1.3"/>
<path d="M531.7 341.6 L545.3 405.6" fill="none" stroke="#555" stroke-width="0.9"/>
<path d="M536.7 340.3 L550.2 400.7" fill="none" stroke="#555" stroke-width="0.9"/>
<path d="M526.8 344.0 L524.3 361.3 L523.1 390.8" fill="none" stroke="#555" stroke-width="0.9"/>
<circle cx="529.3" cy="358.3" r="0.7" fill="none" stroke="#555" stroke-width="0.9"/>
<path d="M390.3 475.9 L394.7 472.4 L399.8 475.9 L399.0 484.5 L394.7 486.2 L391.2 483.6 L390.3 475.9" fill="none" stroke="#222" stroke-width="1.6"/>
<circle cx="394.8" cy="479.3" r="3.3" fill="none" stroke="#222" stroke-width="1.3"/>
<path d="M392.9 483.6 L397.2 482.8 L397.2 487.1 L393.8 487.1 L392.9 483.6Z" fill="#111" stroke="none"/>
<path d="M389.5 474.1 L393.8 470.7" fill="none" stroke="#222" stroke-width="1.4"/>
<path d="M392.1 486.2 L392.5 498.3 L397.2 507.3 L405.9 512.5 L414.5 515.7 L424.8 518.5" fill="none" stroke="#222" stroke-width="1.6"/>
<path d="M395.1 486.2 L395.5 497.0 L399.8 505.2 L407.6 509.9 L416.2 512.9 L426.6 515.5" fill="none" stroke="#222" stroke-width="1.6"/>
<path d="M403.3 486.2 L408.4 485.3 L409.3 501.7 L404.6 502.2 L403.3 486.2" fill="none" stroke="#222" stroke-width="1.6"/>
<path d="M405.0 469.8 L411.0 467.2 L416.2 470.7 L417.1 486.2 L412.8 487.9 L408.4 486.2 L405.9 482.8 L405.0 469.8Z" fill="#111" stroke="none"/>
<path d="M405.9 465.5 L414.5 463.8 L417.9 469.8" fill="none" stroke="#222" stroke-width="1.4"/>
<path d="M402.4 467.2 L405.9 462.9" fill="none" stroke="#222" stroke-width="1.4"/>
<path d="M395.5 461.2 L399.8 456.9 L404.1 455.2 L403.3 458.6 L399.0 461.2 L396.4 463.8 L395.5 461.2Z" fill="#111" stroke="none"/>
<path d="M404.1 459.5 L409.3 461.2 L412.8 465.5" fill="none" stroke="#222" stroke-width="1.4"/>
<circle cx="408.4" cy="462.1" r="2.2" fill="none" stroke="#222" stroke-width="1.3"/>
<path d="M411.0 486.2 L412.8 501.7 L411.0 506.0" fill="none" stroke="#222" stroke-width="1.4"/>
<path d="M405.9 489.7 L407.6 498.3" fill="none" stroke="#222" stroke-width="1.2"/>
<path d="M417.9 477.6 L419.2 498.3 L420.5 515.5" fill="none" stroke="#111" stroke-width="2.8" stroke-linecap="round"/>
<path d="M422.2 494.8 L423.1 519.0" fill="none" stroke="#111" stroke-width="2.6" stroke-linecap="round"/>
<path d="M425.3 517.2 L424.8 498.3 L426.6 490.5 L429.6 487.1 L433.0 488.4 L435.2 493.5 L435.6 502.6" fill="none" stroke="#111" stroke-width="3" stroke-linecap="round"/>
<path d="M439.5 498.3 L440.3 516.4" fill="none" stroke="#111" stroke-width="2.4" stroke-linecap="round"/>
<path d="M431.7 475.9 L440.3 469.0 L445.5 462.9 L448.1 456.9 L446.4 450.0" fill="none" stroke="#111" stroke-width="2.8" stroke-linecap="round"/>
<path d="M417.1 458.6 L424.8 459.5 L428.3 463.8 L426.6 467.2 L420.5 464.7 L417.1 458.6Z" fill="#111" stroke="none"/>
<path d="M428.3 469.8 L432.6 470.7 L435.2 475.0" fill="none" stroke="#222" stroke-width="1.4"/>
<circle cx="428.3" cy="464.7" r="2.6" fill="none" stroke="#222" stroke-width="1.3"/>
<path d="M440.3 491.4 L450.0 487.9" fill="none" stroke="#222" stroke-width="1.2"/>
<path d="M440.3 494.8 L450.0 491.4" fill="none" stroke="#222" stroke-width="1.2"/>
<path d="M428.3 506.9 L433.4 505.2 L435.2 512.1 L430.0 513.8 L428.3 506.9" fill="none" stroke="#222" stroke-width="1.3"/>
<path d="M373.5 337.9 C374.2 336.4 374.2 332.8 377.2 329.3 C380.3 325.8 384.6 321.3 392.0 316.9 C399.4 312.6 410.5 307.7 421.6 303.4 C432.7 299.1 448.3 293.0 458.5 291.1 C468.8 289.2 473.3 288.4 483.2 291.8 C493.0 295.2 509.4 305.5 517.6 311.5 C525.8 317.6 529.1 323.8 532.4 328.0 C535.7 332.3 536.5 335.6 537.3 337.1" fill="none" stroke="#555" stroke-width="0.9"/>
<path d="M373.5 337.9 C373.8 338.9 373.1 342.0 374.8 344.0 C376.4 346.1 377.7 347.3 383.4 350.2 C389.1 353.1 399.6 357.5 409.3 361.3 C418.9 365.1 435.9 371.1 441.3 373.1" fill="none" stroke="#555" stroke-width="0.9"/>
<path d="M441.3 373.1 L456.1 376.6 L470.8 369.2 L497.9 358.8 L532.4 344.5 L537.3 337.1" fill="none" stroke="#555" stroke-width="0.9"/>
<path d="M382.2 346.5 C390.8 342.4 416.0 330.7 433.9 321.9 C451.7 313.0 480.1 298.3 489.3 293.5" fill="none" stroke="#555" stroke-width="0.9"/>
<path d="M394.5 353.9 C404.3 349.8 433.1 336.2 453.6 329.3 C474.1 322.3 507.0 314.9 517.6 312.0" fill="none" stroke="#555" stroke-width="0.9"/>
<path d="M409.3 361.3 C418.3 357.6 443.3 345.5 463.4 339.1 C483.6 332.8 518.9 325.8 530.0 323.1" fill="none" stroke="#555" stroke-width="0.9"/>
<path d="M441.3 373.1 C448.3 369.9 467.8 360.2 483.2 353.9 C498.5 347.6 525.2 338.5 533.6 335.4" fill="none" stroke="#555" stroke-width="0.9"/>
<path d="M380.9 349.0 L384.6 353.9 L409.3 365.0 L441.3 377.3" fill="none" stroke="#555" stroke-width="0.9"/>
<path d="M441.3 373.1 L441.3 383.4 L456.1 388.4 L470.8 373.6" fill="none" stroke="#555" stroke-width="0.9"/>
<path d="M456.1 388.4 L502.9 371.1" fill="none" stroke="#555" stroke-width="0.9"/>
<ellipse cx="396.9" cy="318.2" rx="4.4" ry="2.0" transform="rotate(-25.0 396.9 318.2)" fill="none" stroke="#555" stroke-width="0.9"/>
<ellipse cx="426.5" cy="321.9" rx="6.4" ry="3.7" transform="rotate(-8.0 426.5 321.9)" fill="none" stroke="#555" stroke-width="0.9"/>
<ellipse cx="469.6" cy="346.5" rx="6.4" ry="3.7" transform="rotate(-8.0 469.6 346.5)" fill="none" stroke="#555" stroke-width="0.9"/>
<ellipse cx="475.8" cy="362.5" rx="3.9" ry="2.0" transform="rotate(-25.0 475.8 362.5)" fill="none" stroke="#555" stroke-width="0.9"/>
<circle cx="426.5" cy="321.9" r="0.5" fill="none" stroke="#555" stroke-width="0.9"/>
<circle cx="469.6" cy="346.5" r="0.5" fill="none" stroke="#555" stroke-width="0.9"/>
<ellipse cx="389.6" cy="355.1" rx="5.4" ry="3.4" transform="rotate(35.0 389.6 355.1)" fill="none" stroke="#555" stroke-width="0.9"/>
<path d="M374.8 378.5 L409.3 366.2 L426.5 376.6" fill="none" stroke="#222" stroke-width="1.3"/>
<path d="M379.7 351.4 L373.5 398.2" fill="none" stroke="#555" stroke-width="0.9"/>
<path d="M378.5 353.9 L372.3 395.8" fill="none" stroke="#222" stroke-width="1.3"/>
<circle cx="375.3" cy="378.0" r="1.5" fill="none" stroke="#555" stroke-width="0.9"/>
<path d="M427.7 377.3 L430.2 395.8" fill="none" stroke="#222" stroke-width="1.3"/>
<path d="M431.4 376.1 L433.9 394.5" fill="none" stroke="#222" stroke-width="1.3"/>
<circle cx="429.0" cy="376.1" r="2.0" fill="none" stroke="#222" stroke-width="1.3"/>
<circle cx="432.7" cy="375.6" r="2.0" fill="none" stroke="#222" stroke-width="1.3"/>
<path d="M484.4 378.5 L502.9 372.4" fill="none" stroke="#555" stroke-width="0.9"/>
<circle cx="505.3" cy="379.8" r="3.2" fill="none" stroke="#222" stroke-width="1.3"/>
<path d="M507.8 379.8 L501.6 400.0" fill="none" stroke="#222" stroke-width="1.3"/>
<path d="M512.7 383.4 L517.6 377.3" fill="none" stroke="#555" stroke-width="0.9"/>
<path d="M454.5 533.8 L479.1 529.6 L481.1 538.7 L456.9 543.6 L454.5 533.8" fill="none" stroke="#555" stroke-width="0.9"/>
<path d="M456.9 535.8 L477.9 532.1 L479.1 537.7 L457.4 541.9 L456.9 535.8Z" fill="#bbb" stroke="none"/>
<path d="M447.1 563.3 L470.5 554.2 L479.1 565.3 L452.0 575.7 L447.1 563.3" fill="none" stroke="#555" stroke-width="0.9"/>
<path d="M450.0 565.3 L470.5 557.9 L476.7 565.8 L453.3 573.2 L450.0 565.3Z" fill="#bbb" stroke="none"/>
<path d="M436.0 530.8 L444.6 567.8 L452.0 575.7" fill="none" stroke="#555" stroke-width="0.9"/>
<path d="M429.9 538.2 L437.2 553.0 L445.9 570.2" fill="none" stroke="#555" stroke-width="0.9"/>
<path d="M475.4 523.4 L476.7 557.9" fill="none" stroke="#555" stroke-width="0.9"/>
<path d="M461.9 523.4 L475.4 523.4" fill="none" stroke="#555" stroke-width="0.9"/>
<path d="M420.0 535.8 L434.8 543.2" fill="none" stroke="#555" stroke-width="0.9"/>
<path d="M420.0 562.9 L432.3 567.8 L445.9 570.2" fill="none" stroke="#555" stroke-width="0.9"/>
<path d="M476.7 545.6 L508.7 535.8 L523.4 523.4" fill="none" stroke="#555" stroke-width="0.9"/>
<path d="M479.1 535.8 L493.9 528.4" fill="none" stroke="#555" stroke-width="0.9"/>
<path d="M546.9 401.4 L565.9 392.8 L583.1 390.2 L591.7 399.7 L588.3 416.9 L579.7 425.5 L567.6 432.4 L557.2 432.4 L550.3 425.5 L546.9 411.7 L546.9 401.4" fill="none" stroke="#555" stroke-width="0.9"/>
<circle cx="559.0" cy="406.6" r="2.6" fill="none" stroke="#222" stroke-width="1.3"/>
<circle cx="559.0" cy="406.6" r="1.0" fill="none" stroke="#555" stroke-width="0.9"/>
<circle cx="577.9" cy="405.7" r="2.6" fill="none" stroke="#222" stroke-width="1.3"/>
<circle cx="577.9" cy="405.7" r="1.0" fill="none" stroke="#555" stroke-width="0.9"/>
<circle cx="573.6" cy="410.0" r="5.5" fill="none" stroke="#555" stroke-width="0.9"/>
<path d="M565.9 392.8 L569.3 403.1 L574.5 416.9 L579.7 425.5" fill="none" stroke="#555" stroke-width="0.9"/>
<path d="M586.6 396.2 L598.6 385.9 L606.4 406.6 L591.7 434.1 L583.1 422.1 L586.6 396.2" fill="none" stroke="#555" stroke-width="0.9"/>
<path d="M590.0 403.1 L596.9 391.0 L602.1 408.3 L591.7 427.2" fill="none" stroke="#555" stroke-width="0.9"/>
<path d="M598.6 385.9 L602.1 406.6" fill="none" stroke="#555" stroke-width="0.9"/>
<circle cx="557.2" cy="415.2" r="0.5" fill="none" stroke="#555" stroke-width="0.9"/>
<circle cx="555.5" cy="418.6" r="0.5" fill="none" stroke="#555" stroke-width="0.9"/>
<circle cx="559.8" cy="420.3" r="0.5" fill="none" stroke="#555" stroke-width="0.9"/>
<circle cx="560.7" cy="416.0" r="0.5" fill="none" stroke="#555" stroke-width="0.9"/>
<path d="M540.0 441.0 L559.0 442.8 L560.7 446.2 L550.3 446.2" fill="none" stroke="#555" stroke-width="0.9"/>
<path d="M540.0 456.6 L567.6 446.2 L569.3 451.4 L540.0 463.4" fill="none" stroke="#555" stroke-width="0.9"/>
<path d="M583.1 422.1 L562.4 466.9" fill="none" stroke="#555" stroke-width="0.9"/>
<path d="M586.6 423.8 L565.9 468.6" fill="none" stroke="#555" stroke-width="0.9"/>
<path d="M546.9 401.4 L540.0 404.8" fill="none" stroke="#555" stroke-width="0.9"/>
<path d="M550.3 425.5 L540.0 429.0" fill="none" stroke="#555" stroke-width="0.9"/>
<path d="M567.6 432.4 L564.1 441.0 L540.0 442.8" fill="none" stroke="#555" stroke-width="0.9"/>
<path d="M390.3 560.5 L395.5 558.8 L402.4 559.7 L405.9 564.0 L411.0 562.2 L416.2 566.6 L419.7 571.7 L424.8 570.9 L428.3 576.0 L427.9 580.3 L432.1 582.1 L431.7 589.0 L434.8 592.4 L433.4 598.4 L435.5 602.8 L433.1 607.9 L433.4 614.0 L430.3 617.4 L429.1 624.3 L425.7 626.9 L423.1 632.1 L417.9 633.8 L415.3 639.0 L409.3 639.8 L405.9 642.8 L399.0 641.6 L393.8 642.8 L389.5 639.0 L383.8 638.6 L380.0 633.8 L375.2 632.9 L371.4 627.8 L367.1 626.0 L365.3 620.9 L361.0 618.3 L361.4 613.1 L358.4 608.8 L361.0 604.5 L359.7 599.3 L363.6 595.9 L362.8 590.7 L367.1 587.2 L366.6 582.1 L371.4 579.5 L372.2 574.3 L376.6 571.7 L380.0 566.6 L385.2 565.7 L390.3 560.5" fill="none" stroke="#555" stroke-width="0.9"/>
<path d="M405.9 571.7 C407.9 572.6 414.6 574.6 417.9 576.9 C421.2 579.2 423.8 582.1 425.7 585.5 C427.6 589.0 428.7 593.3 429.1 597.6 C429.6 601.9 429.3 607.1 428.3 611.4 C427.3 615.7 425.4 620.0 423.1 623.4 C420.8 626.9 417.6 630.1 414.5 632.1 C411.3 634.1 405.9 634.9 404.1 635.5" fill="none" stroke="#555" stroke-width="0.9"/>
<ellipse cx="404.1" cy="606.2" rx="16.4" ry="21.0" transform="rotate(18.0 404.1 606.2)" fill="none" stroke="#555" stroke-width="0.9"/>
<ellipse cx="403.8" cy="605.9" rx="13.4" ry="17.6" transform="rotate(18.0 403.8 605.9)" fill="none" stroke="#555" stroke-width="0.9"/>
<ellipse cx="402.4" cy="604.5" rx="5.5" ry="7.2" transform="rotate(18.0 402.4 604.5)" fill="none" stroke="#555" stroke-width="0.9"/>
<circle cx="402.1" cy="604.5" r="2.4" fill="none" stroke="#555" stroke-width="0.9"/>
<circle cx="399.8" cy="605.0" r="1.2" fill="none" stroke="#555" stroke-width="0.9"/>
<circle cx="404.1" cy="602.8" r="1.0" fill="none" stroke="#555" stroke-width="0.9"/>
<circle cx="405.9" cy="590.7" r="0.9" fill="none" stroke="#555" stroke-width="0.9"/>
<circle cx="394.1" cy="611.7" r="0.9" fill="none" stroke="#555" stroke-width="0.9"/>
<circle cx="408.4" cy="612.2" r="0.9" fill="none" stroke="#555" stroke-width="0.9"/>
<circle cx="410.7" cy="596.9" r="0.7" fill="none" stroke="#555" stroke-width="0.9"/>
<path d="M342.1 582.4 L364.5 575.5 L381.7 566.9 L394.1 560.0" fill="none" stroke="#111" stroke-width="3.6" stroke-linecap="round"/>
<path d="M366.2 557.1 L412.8 544.1" fill="none" stroke="#111" stroke-width="2.8" stroke-linecap="round"/>
<path d="M371.4 563.1 L411.0 549.7" fill="none" stroke="#111" stroke-width="2.8" stroke-linecap="round"/>
<path d="M367.9 561.0 L397.2 551.9" fill="none" stroke="#111" stroke-width="2.8" stroke-linecap="round"/>
<path d="M395.5 544.1 L416.2 534.1" fill="none" stroke="#111" stroke-width="2.2" stroke-linecap="round"/>
<path d="M400.7 545.9 L419.7 536.4" fill="none" stroke="#111" stroke-width="2.2" stroke-linecap="round"/>
<path d="M364.5 554.5 L371.4 553.6 L374.0 566.6 L366.2 568.3 L364.5 554.5Z" fill="#111" stroke="none"/>
<path d="M355.9 592.4 L373.1 564.8" fill="none" stroke="#555" stroke-width="0.9"/>
<path d="M330.0 601.0 L373.1 559.7" fill="none" stroke="#555" stroke-width="0.9"/>
<path d="M330.0 592.4 L374.8 549.3" fill="none" stroke="#555" stroke-width="0.9"/>
<path d="M330.0 575.2 L340.3 571.7 L357.6 566.6" fill="none" stroke="#555" stroke-width="0.9"/>
<path d="M330.0 578.6 L364.5 568.3" fill="none" stroke="#555" stroke-width="0.9"/>
<path d="M411.0 551.0 L416.2 559.7 L447.2 570.0" fill="none" stroke="#555" stroke-width="0.9"/>
<path d="M433.4 535.5 L442.1 568.3 L450.7 571.7" fill="none" stroke="#555" stroke-width="0.9"/>
<path d="M449.0 564.8 L470.0 554.5" fill="none" stroke="#555" stroke-width="0.9"/>
<path d="M450.7 571.7 L470.0 561.4" fill="none" stroke="#555" stroke-width="0.9"/>
<path d="M436.9 542.4 L447.2 542.4" fill="none" stroke="#555" stroke-width="0.9"/>
<path d="M419.7 530.3 L436.9 547.6" fill="none" stroke="#555" stroke-width="0.9"/>
<path d="M535.8 446.8 L544.1 445.6 L555.2 449.8 L560.9 454.0 L566.3 452.5 L572.0 463.6 L578.9 473.4 L576.9 480.8 L583.1 491.4 L578.9 502.5 L580.8 513.8 L574.7 522.2 L573.4 533.3 L566.3 541.7 L563.6 550.5 L555.2 555.5 L549.6 563.8 L538.5 565.3 L530.1 570.7 L516.3 569.5 L507.9 566.6 L499.6 569.5 L491.2 562.4 L482.8 558.2 L474.4 552.8 L471.2 544.4 L474.4 536.0 L470.2 527.6 L474.4 519.3 L471.7 508.2 L477.9 499.8" fill="none" stroke="#555" stroke-width="0.9"/>
<path d="M560.9 463.6 C562.3 466.4 567.4 474.3 569.3 480.3 C571.1 486.4 572.2 492.4 572.0 499.8 C571.7 507.2 570.3 517.5 567.8 524.9 C565.2 532.4 561.1 539.3 556.7 544.4 C552.3 549.5 547.2 553.2 541.4 555.5 C535.6 557.8 528.0 558.6 522.0 558.2 C515.9 557.7 508.0 553.7 505.2 552.8" fill="none" stroke="#555" stroke-width="0.9"/>
<ellipse cx="535.8" cy="512.4" rx="24.4" ry="32.8" transform="rotate(18.0 535.8 512.4)" fill="none" stroke="#555" stroke-width="0.9"/>
<ellipse cx="535.3" cy="511.6" rx="21.2" ry="29.1" transform="rotate(18.0 535.3 511.6)" fill="none" stroke="#555" stroke-width="0.9"/>
<circle cx="531.6" cy="536.0" r="1.5" fill="none" stroke="#555" stroke-width="0.9"/>
<circle cx="519.5" cy="513.8" r="0.7" fill="none" stroke="#555" stroke-width="0.9"/>
<circle cx="524.7" cy="499.8" r="0.7" fill="none" stroke="#555" stroke-width="0.9"/>
<circle cx="527.4" cy="508.2" r="0.7" fill="none" stroke="#555" stroke-width="0.9"/>
<circle cx="516.3" cy="505.5" r="0.7" fill="none" stroke="#555" stroke-width="0.9"/>
<circle cx="522.0" cy="519.3" r="0.7" fill="none" stroke="#555" stroke-width="0.9"/>
<circle cx="534.3" cy="491.4" r="0.5" fill="none" stroke="#555" stroke-width="0.9"/>
<path d="M474.4 524.9 L488.5 522.2 L496.8 530.3" fill="none" stroke="#555" stroke-width="0.9"/>
<path d="M473.2 538.7 L488.5 536.0 L493.9 547.1" fill="none" stroke="#555" stroke-width="0.9"/>
<path d="M482.8 558.2 L493.9 552.8 L499.6 561.1" fill="none" stroke="#555" stroke-width="0.9"/>
<path d="M496.8 566.6 L505.2 558.2 L516.3 563.8" fill="none" stroke="#555" stroke-width="0.9"/>
<path d="M477.9 502.5 L491.2 505.5 L502.3 513.8" fill="none" stroke="#555" stroke-width="0.9"/>
<path d="M485.8 491.4 L496.8 497.1 L507.9 491.4" fill="none" stroke="#555" stroke-width="0.9"/>
<path d="M505.2 463.6 L516.3 472.0 L524.7 469.3" fill="none" stroke="#555" stroke-width="0.9"/>
<path d="M488.5 477.6 L499.6 484.5 L513.6 480.3" fill="none" stroke="#555" stroke-width="0.9"/>
<path d="M549.6 452.5 L555.2 463.6 L560.9 462.4" fill="none" stroke="#555" stroke-width="0.9"/>
<path d="M538.5 448.3 L544.1 458.2 L552.5 459.4" fill="none" stroke="#555" stroke-width="0.9"/>
<path d="M510.6 477.6 C512.5 476.2 517.3 470.9 522.0 469.3 C526.6 467.6 532.9 467.3 538.5 467.8 C544.0 468.2 552.4 471.3 555.2 472.0" fill="none" stroke="#555" stroke-width="0.9"/>
<path d="M399.4 638.4 L381.8 639.2 L392.8 634.0" fill="none" stroke="#555" stroke-width="0.9"/>
<path d="M396.8 637.1 L378.3 637.1 L390.6 631.8" fill="none" stroke="#555" stroke-width="0.9"/>
<path d="M391.4 632.5 L371.0 630.8 L386.2 625.3" fill="none" stroke="#555" stroke-width="0.9"/>
<path d="M389.3 630.1 L368.3 627.5 L384.7 622.1" fill="none" stroke="#555" stroke-width="0.9"/>
<path d="M385.2 623.2 L363.4 618.8 L382.1 613.8" fill="none" stroke="#555" stroke-width="0.9"/>
<path d="M383.8 619.8 L361.9 614.7 L381.5 610.1" fill="none" stroke="#555" stroke-width="0.9"/>
<path d="M381.7 611.3 L359.9 604.7 L381.0 601.1" fill="none" stroke="#555" stroke-width="0.9"/>
<path d="M381.2 607.5 L359.8 600.3 L381.3 597.2" fill="none" stroke="#555" stroke-width="0.9"/>
<path d="M381.2 598.5 L361.1 590.1 L383.1 588.5" fill="none" stroke="#555" stroke-width="0.9"/>
<path d="M381.7 594.7 L362.3 585.9 L384.3 585.1" fill="none" stroke="#555" stroke-width="0.9"/>
<path d="M383.8 586.2 L366.7 576.8 L388.0 577.8" fill="none" stroke="#555" stroke-width="0.9"/>
<path d="M385.2 582.8 L369.2 573.4 L389.9 575.1" fill="none" stroke="#555" stroke-width="0.9"/>
<path d="M389.3 575.9 L376.1 566.5 L395.2 570.0" fill="none" stroke="#555" stroke-width="0.9"/>
<path d="M391.4 573.5 L379.5 564.1 L397.7 568.5" fill="none" stroke="#555" stroke-width="0.9"/>
<path d="M396.8 568.9 L388.1 560.3 L403.8 566.3" fill="none" stroke="#555" stroke-width="0.9"/>
<path d="M399.4 567.6 L392.0 559.4 L406.5 566.0" fill="none" stroke="#555" stroke-width="0.9"/>
<path d="M399.4 638.4 C398.8 638.1 397.1 637.2 396.0 636.5 C394.9 635.8 393.8 634.9 392.8 634.0 C391.8 633.1 390.8 632.0 389.9 630.9 C389.0 629.8 388.2 628.6 387.4 627.3 C386.6 626.0 385.9 624.7 385.2 623.2 C384.5 621.8 383.9 620.2 383.4 618.6 C382.9 617.0 382.5 615.4 382.1 613.8 C381.8 612.2 381.5 610.5 381.3 608.8 C381.1 607.1 381.0 605.3 381.0 603.6 C381.0 601.9 381.1 600.2 381.2 598.5 C381.3 596.8 381.6 595.1 381.9 593.4 C382.2 591.7 382.6 590.1 383.1 588.5 C383.6 586.9 384.1 585.4 384.7 583.9 C385.3 582.4 386.0 581.0 386.8 579.7 C387.6 578.4 388.4 577.1 389.3 575.9 C390.2 574.7 391.1 573.7 392.1 572.7 C393.1 571.7 394.1 570.8 395.2 570.0 C396.3 569.2 397.4 568.5 398.5 568.0 C399.6 567.5 400.8 567.0 402.0 566.7 C403.2 566.4 404.4 566.2 405.6 566.1 C406.8 566.0 408.7 566.1 409.3 566.1" fill="none" stroke="#555" stroke-width="0.9"/>
<path d="M247.4 568.4 L243.0 567.7 L242.3 562.1 L246.3 560.2 L246.2 557.6 L242.0 556.0 L242.2 550.4 L246.6 549.3 L246.9 546.7 L243.0 544.3 L244.2 538.9 L248.6 538.6 L249.4 536.1 L246.0 533.1 L248.1 527.9 L252.5 528.5 L253.7 526.2 L250.8 522.6 L253.8 517.9 L258.0 519.4 L259.6 517.3 L257.4 513.2 L261.1 509.2 L265.0 511.4 L266.9 509.7 L265.5 505.2 L269.8 502.0 L273.3 505.0 L275.4 503.7 L274.8 499.0 L279.5 496.7 L282.5 500.2 L284.8 499.4 L285.0 494.6 L290.0 493.3 L292.3 497.4" fill="none" stroke="#555" stroke-width="0.9"/>
<path d="M243.6 567.5 L256.8 573.1 L264.2 563.5" fill="none" stroke="#555" stroke-width="0.9"/>
<path d="M242.9 562.1 L255.5 568.8 L263.8 559.9" fill="none" stroke="#555" stroke-width="0.9"/>
<path d="M242.6 556.0 L254.6 564.0 L263.6 556.0" fill="none" stroke="#555" stroke-width="0.9"/>
<path d="M242.8 550.5 L254.1 559.6 L263.7 552.4" fill="none" stroke="#555" stroke-width="0.9"/>
<path d="M243.6 544.5 L254.0 554.7 L264.2 548.5" fill="none" stroke="#555" stroke-width="0.9"/>
<path d="M244.8 539.1 L254.3 550.2 L265.0 545.1" fill="none" stroke="#555" stroke-width="0.9"/>
<path d="M246.5 533.3 L255.0 545.4 L266.2 541.3" fill="none" stroke="#555" stroke-width="0.9"/>
<path d="M248.6 528.2 L256.1 541.0 L267.5 538.0" fill="none" stroke="#555" stroke-width="0.9"/>
<path d="M251.4 522.9 L257.7 536.4 L269.3 534.6" fill="none" stroke="#555" stroke-width="0.9"/>
<path d="M254.3 518.3 L259.4 532.4 L271.1 531.6" fill="none" stroke="#555" stroke-width="0.9"/>
<path d="M257.9 513.6 L261.7 528.1 L273.5 528.6" fill="none" stroke="#555" stroke-width="0.9"/>
<path d="M261.5 509.7 L264.2 524.5 L275.8 526.0" fill="none" stroke="#555" stroke-width="0.9"/>
<path d="M265.8 505.7 L267.2 520.8 L278.6 523.5" fill="none" stroke="#555" stroke-width="0.9"/>
<path d="M270.1 502.6 L270.2 517.7 L281.4 521.5" fill="none" stroke="#555" stroke-width="0.9"/>
<path d="M275.0 499.5 L273.8 514.6 L284.6 519.5" fill="none" stroke="#555" stroke-width="0.9"/>
<path d="M279.7 497.3 L277.3 512.1 L287.6 518.0" fill="none" stroke="#555" stroke-width="0.9"/>
<path d="M285.1 495.2 L281.3 509.8 L291.1 516.7" fill="none" stroke="#555" stroke-width="0.9"/>
<path d="M290.2 493.9 L285.2 508.0 L294.3 515.9" fill="none" stroke="#555" stroke-width="0.9"/>
<path d="M265.6 564.2 C265.5 563.5 265.1 561.5 265.0 560.1 C264.9 558.7 264.8 557.4 264.8 556.0 C264.8 554.6 264.9 553.3 265.0 551.9 C265.1 550.5 265.3 549.2 265.6 547.8 C265.9 546.4 266.2 545.0 266.6 543.7 C267.0 542.4 267.5 541.1 268.0 539.9 C268.5 538.6 269.2 537.4 269.8 536.2 C270.4 535.0 271.1 533.8 271.9 532.7 C272.7 531.6 273.5 530.4 274.4 529.4 C275.3 528.4 276.2 527.4 277.1 526.5 C278.1 525.6 279.1 524.7 280.1 523.9 C281.2 523.1 282.3 522.3 283.4 521.6 C284.5 520.9 285.7 520.3 286.9 519.8 C288.1 519.2 289.3 518.7 290.5 518.3 C291.7 517.9 293.0 517.5 294.3 517.2 C295.6 516.9 297.5 516.6 298.1 516.5" fill="none" stroke="#555" stroke-width="0.9"/>
<path d="M440.0 386.3 L454.8 383.3 L469.6 378.9 L487.3 374.4" fill="none" stroke="#555" stroke-width="0.9"/>
<path d="M454.8 392.2 L474.0 386.3" fill="none" stroke="#555" stroke-width="0.9"/>
<path d="M509.5 370.0 L510.9 378.9" fill="none" stroke="#555" stroke-width="0.9"/>
<path d="M534.6 370.0 L543.4 399.6 L559.7 405.5" fill="none" stroke="#555" stroke-width="0.9"/>
<path d="M528.7 370.0 L536.8 392.2" fill="none" stroke="#555" stroke-width="0.9"/>
<path d="M540.5 418.8 L560.0 406.9" fill="none" stroke="#555" stroke-width="0.9"/>
<path d="M543.4 426.2 L560.0 415.8" fill="none" stroke="#555" stroke-width="0.9"/>
<path d="M522.8 433.5 L560.0 418.8" fill="none" stroke="#555" stroke-width="0.9"/>
<path d="M531.6 446.8 L560.0 438.0" fill="none" stroke="#555" stroke-width="0.9"/>
<path d="M528.7 452.8 L543.4 449.8 L560.0 446.8" fill="none" stroke="#555" stroke-width="0.9"/>
<path d="M462.2 412.9 L471.0 409.9 L472.5 414.3 L465.1 432.1 L460.7 433.5 L462.2 412.9" fill="none" stroke="#555" stroke-width="0.9"/>
<circle cx="463.6" cy="402.5" r="0.6" fill="none" stroke="#555" stroke-width="0.9"/>
<circle cx="536.1" cy="392.2" r="0.6" fill="none" stroke="#555" stroke-width="0.9"/>
<path d="M466.9 442.8 L471.6 440.9 L472.5 464.3 L469.7 465.8 L467.6 461.9 L466.9 442.8" fill="none" stroke="#222" stroke-width="1.4"/>
<path d="M472.5 441.6 L478.0 440.3 L478.6 468.0 L474.3 467.0 L473.1 464.3 L472.5 441.6" fill="none" stroke="#222" stroke-width="1.4"/>
<path d="M478.6 439.7 L484.2 438.5 L485.2 469.3 L480.5 469.0 L479.3 466.8 L478.6 439.7" fill="none" stroke="#222" stroke-width="1.4"/>
<path d="M484.2 438.5 L489.1 437.9 L490.6 470.5 L486.0 469.9 L485.2 469.3" fill="none" stroke="#222" stroke-width="1.4"/>
<path d="M468.2 444.6 L471.3 444.0" fill="none" stroke="#222" stroke-width="1.3"/>
<path d="M473.7 444.6 L477.4 443.4" fill="none" stroke="#222" stroke-width="1.3"/>
<path d="M479.3 443.4 L483.6 442.2" fill="none" stroke="#222" stroke-width="1.3"/>
<path d="M484.8 442.2 L488.9 441.2" fill="none" stroke="#222" stroke-width="1.3"/>
<path d="M489.1 448.3 L503.9 445.9 L505.4 460.6 L491.6 463.3 L489.1 448.3" fill="none" stroke="#222" stroke-width="1.2"/>
<path d="M492.2 451.4 L500.2 449.8 L501.4 459.2 L492.8 460.6 L492.2 451.4" fill="none" stroke="#222" stroke-width="1.3"/>
<path d="M489.1 448.3 L494.0 443.4 L502.7 442.2 L503.9 445.9" fill="none" stroke="#222" stroke-width="1.3"/>
<path d="M470.6 432.3 L476.8 431.1 L484.2 429.9 L496.5 429.9" fill="none" stroke="#222" stroke-width="1.3"/>
<path d="M473.1 436.0 L476.8 432.3" fill="none" stroke="#222" stroke-width="1.3"/>
<path d="M481.7 434.8 L484.2 431.1" fill="none" stroke="#222" stroke-width="1.3"/>
<path d="M487.9 433.5 L491.6 430.5" fill="none" stroke="#222" stroke-width="1.3"/>
<path d="M479.3 436.0 L483.0 434.8 L484.2 438.5 L480.5 439.1 L479.3 436.0Z" fill="#111" stroke="none"/>
<path d="M473.1 434.8 L476.8 433.5 L478.0 439.7 L473.7 440.9 L473.1 434.8Z" fill="#111" stroke="none"/>
<path d="M469.4 469.3 L471.9 471.7 L479.3 471.7 L486.7 473.0 L491.6 471.7" fill="none" stroke="#222" stroke-width="1.3"/>
<path d="M432.5 474.2 L437.4 471.7 L443.5 466.8 L447.2 460.6 L450.3 456.9 L455.2 454.7 L460.8 454.7" fill="none" stroke="#111" stroke-width="2.6" stroke-linecap="round"/>
<path d="M459.6 453.5 L464.5 461.9 L467.2 469.3 L470.9 475.4 L476.8 479.1 L483.2 481.6" fill="none" stroke="#111" stroke-width="2.6" stroke-linecap="round"/>
<path d="M442.3 445.2 L446.0 443.4 L450.3 444.6" fill="none" stroke="#111" stroke-width="2.2" stroke-linecap="round"/>
<path d="M443.5 445.2 L442.9 455.1" fill="none" stroke="#111" stroke-width="2.2" stroke-linecap="round"/>
<path d="M452.2 440.9 L458.3 441.6 L458.6 446.5 L452.8 446.1 L452.2 440.9" fill="none" stroke="#222" stroke-width="1.3"/>
<path d="M496.5 432.3 L503.9 433.5 L510.0 437.2 L516.2 444.6" fill="none" stroke="#111" stroke-width="2.8" stroke-linecap="round"/>
<path d="M499.0 437.2 L506.4 440.9 L515.0 448.3" fill="none" stroke="#111" stroke-width="2" stroke-linecap="round"/>
<path d="M491.6 468.0 L501.4 466.8 L516.2 463.1" fill="none" stroke="#222" stroke-width="1.3"/>
<path d="M494.0 476.7 L503.9 475.4 L518.7 473.0 L527.3 474.2" fill="none" stroke="#222" stroke-width="1.3"/>
<path d="M501.4 469.3 L508.8 467.0 L512.5 471.7 L508.8 478.1" fill="none" stroke="#222" stroke-width="1.3"/>
<path d="M505.1 469.3 L507.6 477.9" fill="none" stroke="#222" stroke-width="1.3"/>
<path d="M510.0 468.0 L512.5 476.0" fill="none" stroke="#222" stroke-width="1.3"/>
<path d="M519.9 456.9 L530.0 454.5 L530.0 464.3 L526.7 466.8 L525.1 474.2 L523.8 479.7 L522.1 471.7 L521.4 461.9 L519.9 456.9Z" fill="#111" stroke="none"/>
<path d="M491.6 486.5 L499.0 485.3 L502.7 479.1 L502.0 469.3" fill="none" stroke="#111" stroke-width="2.8" stroke-linecap="round"/>
<path d="M483.0 491.4 L487.9 492.7 L492.2 497.0 L490.3 500.0 L485.4 497.0" fill="none" stroke="#111" stroke-width="2.2" stroke-linecap="round"/>
<circle cx="491.6" cy="496.6" r="2.7" fill="none" stroke="#222" stroke-width="1.3"/>
<path d="M446.0 484.0 L460.8 482.8 L460.8 489.0 L448.5 490.2" fill="none" stroke="#222" stroke-width="1.3"/>
<path d="M448.5 485.3 L454.6 484.0 L455.2 487.1 L449.7 488.3 L448.5 485.3Z" fill="#111" stroke="none"/>
<path d="M446.0 491.4 L459.6 491.4 L462.0 496.4 L448.5 497.6" fill="none" stroke="#222" stroke-width="1.3"/>
<path d="M430.0 488.3 L433.7 489.0 L435.5 493.9 L433.7 498.8" fill="none" stroke="#111" stroke-width="2.2" stroke-linecap="round"/>
<path d="M439.9 500.0 L438.6 517.3" fill="none" stroke="#111" stroke-width="2.6" stroke-linecap="round"/>
<path d="M454.6 496.4 L455.9 506.2 L458.3 513.6" fill="none" stroke="#222" stroke-width="1.3"/>
<path d="M460.8 498.8 L464.5 506.2" fill="none" stroke="#222" stroke-width="1.3"/>
<path d="M466.9 489.0 L470.6 493.9 L473.1 501.3" fill="none" stroke="#222" stroke-width="1.3"/>
<path d="M444.8 420.0 L442.3 506.2" fill="none" stroke="#555" stroke-width="0.9"/>
<path d="M448.5 420.0 L446.0 506.2" fill="none" stroke="#555" stroke-width="0.9"/>
<path d="M452.2 420.0 L450.9 481.6" fill="none" stroke="#555" stroke-width="0.9"/>
<path d="M508.8 429.9 L530.0 420.0" fill="none" stroke="#555" stroke-width="0.9"/>
<path d="M503.9 456.9 L530.0 449.6" fill="none" stroke="#555" stroke-width="0.9"/>
<path d="M499.0 493.9 L518.7 489.0" fill="none" stroke="#555" stroke-width="0.9"/>
<path d="M494.0 501.3 L516.2 496.4" fill="none" stroke="#555" stroke-width="0.9"/>
<path d="M496.5 506.2 L506.4 513.6" fill="none" stroke="#555" stroke-width="0.9"/>
<path d="M511.3 484.0 L518.7 491.4" fill="none" stroke="#555" stroke-width="0.9"/>
<path d="M515.0 481.6 L530.0 477.9" fill="none" stroke="#555" stroke-width="0.9"/>
<path d="M430.0 459.4 L441.1 456.9 L449.7 460.6" fill="none" stroke="#555" stroke-width="0.9"/>
<circle cx="435.5" cy="463.1" r="2.7" fill="none" stroke="#555" stroke-width="0.9"/>
</g>
<g fill="none" stroke="#111" stroke-width="1.3">
<path d="M150.7 173.5 H163.7 L521.7 407"/>
<path d="M153.2 234.3 H166.1 L446.8 491"/>
<path d="M151 291.4 H164.7 L379.2 472.6"/>
<path d="M117.9 353.9 H146.9 V445.6 H117.9 M117.9 380.3 H146.9 M117.9 424 H146.9 M117.9 402.3 H159.9 L396.3 482.7"/>
<path d="M676.4 256.2 H664 L480.3 489.8"/>
<path d="M678.2 388.8 H664.9 L427 502.5"/>
<path d="M678.8 448.5 H665 L440.6 503"/>
<path d="M686.6 530 H658.5 V574.1 H686.6 M686.6 552.1 H658.5 L435.7 532.7"/>
<path d="M271.6 758.5 H300.6 V866.5 H271.6 M271.6 779.7 H300.6 M271.6 801.5 H300.6 M271.6 823.5 H300.6 M271.6 844.7 H300.6 M300.6 813.8 H313.6 L409.2 522.2"/>
</g>
<g fill="#111"><circle cx="521.7" cy="407" r="2"/>
<circle cx="379.2" cy="472.6" r="2"/>
<circle cx="480.3" cy="489.8" r="2"/></g>
<g>
<rect x="83.0" y="164.2" width="67.7" height="18.1" fill="#fff" stroke="#111" stroke-width="1.4"/>
<text transform="translate(85.9,178.2) scale(0.42,1)" textLength="140.5" lengthAdjust="spacing" class="lb">35.350.10</text>
<rect x="85.2" y="225.5" width="68.0" height="17.8" fill="#fff" stroke="#111" stroke-width="1.4"/>
<text transform="translate(88.1,239.4) scale(0.42,1)" textLength="140.5" lengthAdjust="spacing" class="lb">35.432.01</text>
<rect x="83.3" y="281.7" width="67.7" height="18.0" fill="#fff" stroke="#111" stroke-width="1.4"/>
<text transform="translate(86.2,295.7) scale(0.42,1)" textLength="140.5" lengthAdjust="spacing" class="lb">35.701.16</text>
<rect x="32.8" y="345.5" width="85.1" height="17.6" fill="#fff" stroke="#111" stroke-width="1.4"/>
<text transform="translate(35.7,359.3) scale(0.42,1)" textLength="140.5" lengthAdjust="spacing" class="lb">35.724.07</text>
<rect x="32.8" y="371.4" width="85.1" height="17.6" fill="#fff" stroke="#111" stroke-width="1.4"/>
<text transform="translate(35.7,385.2) scale(0.42,1)" textLength="140.5" lengthAdjust="spacing" class="lb">35.726.21</text>
<rect x="32.8" y="393.6" width="85.1" height="17.0" fill="#fff" stroke="#111" stroke-width="1.4"/>
<text transform="translate(35.7,407.1) scale(0.42,1)" textLength="140.5" lengthAdjust="spacing" class="lb">35.726.22</text>
<rect x="32.8" y="415.7" width="85.1" height="17.0" fill="#fff" stroke="#111" stroke-width="1.4"/>
<text transform="translate(35.7,429.2) scale(0.42,1)" textLength="140.5" lengthAdjust="spacing" class="lb">35.726.23</text>
<rect x="32.8" y="437.0" width="85.1" height="17.5" fill="#fff" stroke="#111" stroke-width="1.4"/>
<text transform="translate(35.7,450.8) scale(0.42,1)" textLength="140.5" lengthAdjust="spacing" class="lb">35.726.25</text>
<rect x="676.4" y="247.6" width="85.2" height="17.5" fill="#fff" stroke="#111" stroke-width="1.4"/>
<text transform="translate(679.3,261.4) scale(0.42,1)" textLength="140.5" lengthAdjust="spacing" class="lb">35.701.02</text>
<rect x="678.2" y="380.2" width="85.2" height="17.5" fill="#fff" stroke="#111" stroke-width="1.4"/>
<text transform="translate(681.1,393.9) scale(0.42,1)" textLength="140.5" lengthAdjust="spacing" class="lb">35.106.01</text>
<rect x="678.8" y="439.8" width="85.3" height="17.4" fill="#fff" stroke="#111" stroke-width="1.4"/>
<text transform="translate(681.7,453.5) scale(0.42,1)" textLength="140.5" lengthAdjust="spacing" class="lb">35.710.01</text>
<rect x="686.6" y="521.5" width="85.5" height="17.7" fill="#fff" stroke="#111" stroke-width="1.4"/>
<text transform="translate(689.5,535.4) scale(0.42,1)" textLength="140.5" lengthAdjust="spacing" class="lb">35.701.06</text>
<rect x="686.6" y="543.6" width="85.5" height="17.2" fill="#fff" stroke="#111" stroke-width="1.4"/>
<text transform="translate(689.5,557.2) scale(0.42,1)" textLength="140.5" lengthAdjust="spacing" class="lb">35.701.24</text>
<rect x="686.6" y="565.4" width="85.5" height="17.6" fill="#fff" stroke="#111" stroke-width="1.4"/>
<text transform="translate(689.5,579.2) scale(0.42,1)" textLength="140.5" lengthAdjust="spacing" class="lb">35.701.25</text>
<rect x="186.5" y="748.7" width="85.1" height="17.5" fill="#fff" stroke="#111" stroke-width="1.4"/>
<text transform="translate(189.4,762.5) scale(0.42,1)" textLength="140.5" lengthAdjust="spacing" class="lb">35.106.02</text>
<rect x="186.5" y="770.9" width="85.1" height="17.5" fill="#fff" stroke="#111" stroke-width="1.4"/>
<text transform="translate(189.4,784.6) scale(0.42,1)" textLength="140.5" lengthAdjust="spacing" class="lb">35.106.03</text>
<rect x="186.5" y="792.7" width="85.1" height="17.5" fill="#fff" stroke="#111" stroke-width="1.4"/>
<text transform="translate(189.4,806.5) scale(0.42,1)" textLength="140.5" lengthAdjust="spacing" class="lb">35.106.04</text>
<rect x="186.5" y="814.2" width="85.1" height="17.2" fill="#fff" stroke="#111" stroke-width="1.4"/>
<text transform="translate(189.4,827.8) scale(0.42,1)" textLength="140.5" lengthAdjust="spacing" class="lb">35.106.05</text>
<rect x="186.5" y="836.0" width="85.1" height="17.2" fill="#fff" stroke="#111" stroke-width="1.4"/>
<text transform="translate(189.4,849.6) scale(0.42,1)" textLength="140.5" lengthAdjust="spacing" class="lb">35.106.07</text>
<rect x="186.5" y="857.6" width="85.1" height="17.2" fill="#fff" stroke="#111" stroke-width="1.4"/>
<text transform="translate(189.4,871.2) scale(0.42,1)" textLength="140.5" lengthAdjust="spacing" class="lb">35.106.08</text>
</g>
</svg>
</body></html>
